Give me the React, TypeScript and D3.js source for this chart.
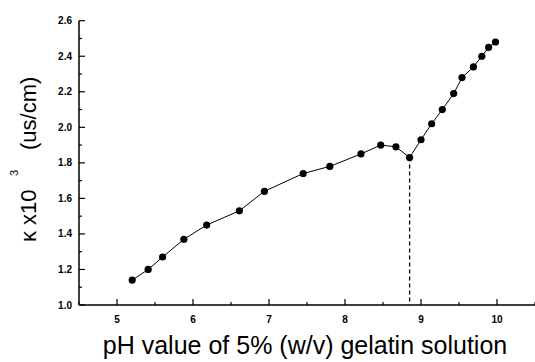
import React, { useRef, useEffect } from 'react';
import * as d3 from 'd3';

// pH readings and conductivity (x10^3 us/cm)
const phValues = [5.2, 5.41, 5.6, 5.88, 6.18, 6.61, 6.94, 7.45, 7.8, 8.21, 8.47, 8.67, 8.85, 9.0, 9.14, 9.28, 9.43, 9.54, 9.69, 9.8, 9.89, 9.98];
const kappaValues = [1.14, 1.2, 1.27, 1.37, 1.45, 1.53, 1.64, 1.74, 1.78, 1.85, 1.9, 1.89, 1.83, 1.93, 2.02, 2.1, 2.19, 2.28, 2.34, 2.4, 2.45, 2.48];
const xTicks = [5, 6, 7, 8, 9, 10];
const yTicks = [1.0, 1.2, 1.4, 1.6, 1.8, 2.0, 2.2, 2.4, 2.6];
const breakPh = 8.85;

function App() {
  const svgRef = useRef<SVGSVGElement>(null);

  useEffect(() => {
    const svg = d3.select(svgRef.current);
    svg.selectAll('*').remove();

    const x = d3.scaleLinear().domain([4.5, 10.5]).range([79, 535]);
    const y = d3.scaleLinear().domain([1.0, 2.6]).range([305, 20.7]);

    const font = 'Arial, "Liberation Sans", sans-serif';

    // axis lines
    svg.append('line')
      .attr('x1', x(4.5)).attr('x2', x(10.5))
      .attr('y1', y(1.0)).attr('y2', y(1.0))
      .attr('stroke', '#000').attr('stroke-width', 1.5);
    svg.append('line')
      .attr('x1', x(4.5)).attr('x2', x(4.5))
      .attr('y1', y(1.0)).attr('y2', y(2.6))
      .attr('stroke', '#000').attr('stroke-width', 1.5);

    // x ticks, pointing in
    const xMinor = d3.range(4.5, 10.51, 0.5);
    svg.append('g').selectAll('line')
      .data(xMinor)
      .join('line')
      .attr('x1', d => x(d)).attr('x2', d => x(d))
      .attr('y1', y(1.0))
      .attr('y2', d => y(1.0) - (Number.isInteger(d) ? 6 : 3))
      .attr('stroke', '#000').attr('stroke-width', 1.2);

    svg.append('g').selectAll('text')
      .data(xTicks)
      .join('text')
      .attr('x', d => x(d))
      .attr('y', y(1.0) + 18)
      .attr('text-anchor', 'middle')
      .style('font', `bold 10px ${font}`)
      .text(d => d);

    // y ticks, pointing in
    const yMinor = d3.range(1.0, 2.601, 0.1);
    svg.append('g').selectAll('line')
      .data(yMinor)
      .join('line')
      .attr('x1', x(4.5))
      .attr('x2', (d, i) => x(4.5) + (i % 2 === 0 ? 6 : 3))
      .attr('y1', d => y(d)).attr('y2', d => y(d))
      .attr('stroke', '#000').attr('stroke-width', 1.2);

    svg.append('g').selectAll('text')
      .data(yTicks)
      .join('text')
      .attr('x', x(4.5) - 7)
      .attr('y', d => y(d) + 3.5)
      .attr('text-anchor', 'end')
      .style('font', `bold 10px ${font}`)
      .text(d => d.toFixed(1));

    // dashed drop line at the break point
    const breakIdx = phValues.indexOf(breakPh);
    svg.append('line')
      .attr('x1', x(breakPh)).attr('x2', x(breakPh))
      .attr('y1', y(kappaValues[breakIdx])).attr('y2', y(1.0))
      .attr('stroke', '#000').attr('stroke-width', 1.3)
      .attr('stroke-dasharray', '4,3');

    const pts = phValues.map((p, i) => [p, kappaValues[i]] as [number, number]);
    const line = d3.line<[number, number]>().x(d => x(d[0])).y(d => y(d[1]));
    svg.append('path')
      .attr('d', line(pts))
      .attr('fill', 'none')
      .attr('stroke', '#000')
      .attr('stroke-width', 1);

    svg.append('g').selectAll('circle')
      .data(pts)
      .join('circle')
      .attr('cx', d => x(d[0]))
      .attr('cy', d => y(d[1]))
      .attr('r', 3.6)
      .attr('fill', '#000');

    // axis titles
    svg.append('text')
      .attr('x', 305)
      .attr('y', 354)
      .attr('text-anchor', 'middle')
      .style('font', `25px ${font}`)
      .text('pH value of 5% (w/v) gelatin solution');

    const ytitle = svg.append('g').style('font-family', font);
    ytitle.append('text')
      .attr('transform', 'translate(36,242) rotate(-90)')
      .style('font-size', '22px')
      .text('κ x10');
    ytitle.append('text')
      .attr('transform', 'translate(18,176) rotate(-90)')
      .style('font-size', '11px')
      .text('3');
    ytitle.append('text')
      .attr('transform', 'translate(36,150) rotate(-90)')
      .style('font-size', '22px')
      .text('(us/cm)');
  }, []);

  return (
    <div style={{ position: 'absolute', left: 0, top: 0 }}>
      <svg ref={svgRef} width={535} height={362} style={{ display: 'block', background: '#fff' }} />
    </div>
  );
}

export default App;
